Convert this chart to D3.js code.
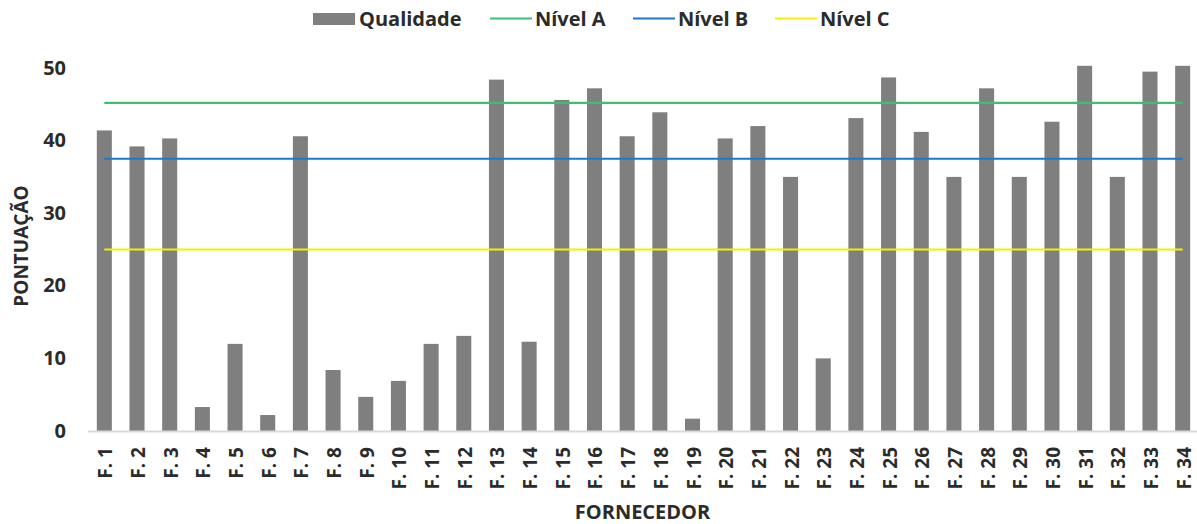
<!DOCTYPE html>
<html>
<head>
<meta charset="utf-8">
<script src="https://cdn.jsdelivr.net/npm/d3@7"></script>
<style>
  html, body { margin: 0; padding: 0; background: #fff; }
  svg { display: block; font-family: "Open Sans", "DejaVu Sans", sans-serif; font-weight: 700; }
</style>
</head>
<body>
<svg id="chart" width="1197" height="524"></svg>
<script>
// Suppliers (F. 1 … F. 34)
const categories = ["F. 1","F. 2","F. 3","F. 4","F. 5","F. 6","F. 7","F. 8","F. 9","F. 10",
  "F. 11","F. 12","F. 13","F. 14","F. 15","F. 16","F. 17","F. 18","F. 19","F. 20",
  "F. 21","F. 22","F. 23","F. 24","F. 25","F. 26","F. 27","F. 28","F. 29","F. 30",
  "F. 31","F. 32","F. 33","F. 34"];

// Quality score per supplier
const qualidade = [41.4, 39.2, 40.3, 3.3, 12.0, 2.2, 40.6, 8.4, 4.7, 6.9,
  12.0, 13.1, 48.4, 12.3, 45.6, 47.2, 40.6, 43.9, 1.7, 40.3,
  42.0, 35.0, 10.0, 43.1, 48.7, 41.2, 35.0, 47.2, 35.0, 42.6,
  50.3, 35.0, 49.5, 50.3];

// Reference levels
const nivelA = 45.2;
const nivelB = 37.5;
const nivelC = 25;

const yTicks = [0, 10, 20, 30, 40, 50];

const colors = { bar: "#7f7f7f", a: "#3cbf6e", b: "#1f77c9", c: "#f2f200", text: "#2b2b2b", axis: "#d9d9d9" };

const svg = d3.select("#chart");

const x = d3.scaleBand()
  .domain(categories)
  .range([88, 1199])
  .paddingInner(0.54)
  .paddingOuter(0.27);

const y = d3.scaleLinear().domain([0, 50]).range([431, 68]);

// Bars
svg.append("g").selectAll("rect")
  .data(qualidade)
  .join("rect")
  .attr("x", (d, i) => x(categories[i]))
  .attr("width", x.bandwidth())
  .attr("y", d => y(d))
  .attr("height", d => y(0) - y(d))
  .attr("fill", colors.bar);

// Category axis (baseline + rotated labels)
const xAxis = svg.append("g")
  .attr("transform", `translate(0,${y(0)})`)
  .call(d3.axisBottom(x).tickSize(0).tickPadding(0));
xAxis.select(".domain").attr("stroke", colors.axis).attr("stroke-width", 2)
  .attr("d", `M88,0.5H1197`);
xAxis.selectAll("text")
  .attr("fill", colors.text)
  .style("font-size", "19px")
  .style("font-family", "'Open Sans', sans-serif")
  .style("font-weight", 700)
  .attr("text-anchor", "end")
  .attr("dominant-baseline", "central")
  .attr("dy", null)
  .attr("y", 0)
  .attr("transform", "translate(1,16) rotate(-90)");

// Value axis labels
const yAxis = svg.append("g")
  .attr("transform", "translate(66,0)")
  .call(d3.axisLeft(y).tickValues(yTicks).tickSize(0).tickPadding(0).tickFormat(d3.format("d")));
yAxis.select(".domain").remove();
yAxis.selectAll("text")
  .attr("fill", colors.text)
  .style("font-size", "20px")
  .style("font-family", "'Open Sans', sans-serif")
  .style("font-weight", 700)
  .attr("dy", "0.3em");

// Level lines from first to last category centre
const x0 = x(categories[0]) + x.bandwidth() / 2;
const x1 = x(categories[categories.length - 1]) + x.bandwidth() / 2;
[[nivelA, colors.a], [nivelB, colors.b], [nivelC, colors.c]].forEach(([v, c]) => {
  svg.append("line")
    .attr("x1", x0).attr("x2", x1)
    .attr("y1", y(v)).attr("y2", y(v))
    .attr("stroke", c).attr("stroke-width", 2.2);
});

// Axis titles
svg.append("text")
  .attr("transform", "translate(21,246) rotate(-90)")
  .attr("text-anchor", "middle")
  .attr("dominant-baseline", "central")
  .attr("fill", colors.text)
  .style("font-size", "19px")
  .text("PONTUAÇÃO");

svg.append("text")
  .attr("x", (88 + 1197) / 2)
  .attr("y", 519)
  .attr("text-anchor", "middle")
  .attr("fill", colors.text)
  .style("font-size", "20px")
  .text("FORNECEDOR");

// Legend
const legend = svg.append("g");
legend.append("rect").attr("x", 313).attr("y", 13).attr("width", 42).attr("height", 12).attr("fill", colors.bar);
legend.append("text").attr("x", 359).attr("y", 25.5).attr("fill", colors.text).style("font-size", "20px").text("Qualidade");

const legendLines = [
  { x: 490, label: "Nível A", color: colors.a },
  { x: 633, label: "Nível B", color: colors.b },
  { x: 775, label: "Nível C", color: colors.c }
];
legendLines.forEach(item => {
  legend.append("line")
    .attr("x1", item.x).attr("x2", item.x + 42)
    .attr("y1", 18.5).attr("y2", 18.5)
    .attr("stroke", item.color).attr("stroke-width", 2.2);
  legend.append("text")
    .attr("x", item.x + 45).attr("y", 25.5)
    .attr("fill", colors.text)
    .style("font-size", "20px")
    .text(item.label);
});
</script>
</body>
</html>
